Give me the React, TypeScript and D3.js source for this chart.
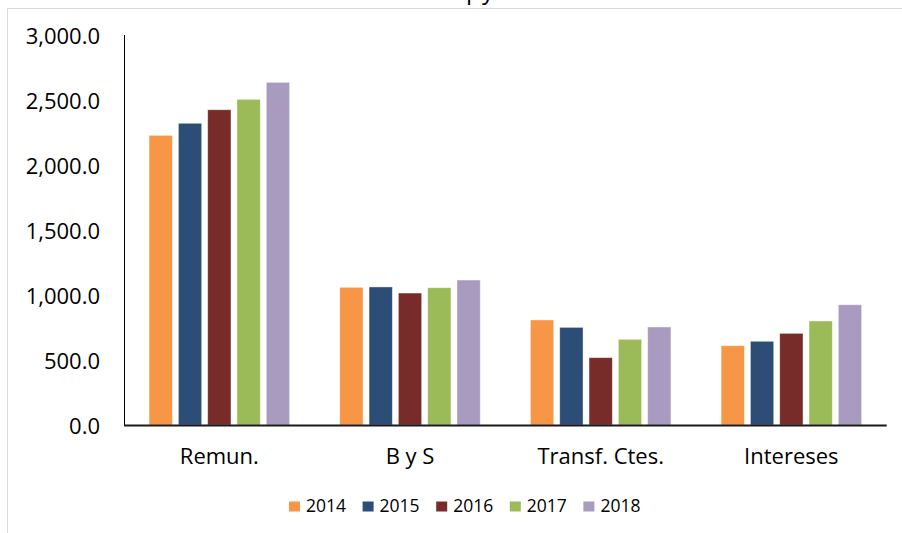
import React from "react";
import * as d3 from "d3";

const categories = ["Remun.", "B y S", "Transf. Ctes.", "Intereses"];
const years = ["2014", "2015", "2016", "2017", "2018"];
const v2014 = [2228, 1059, 808, 610];
const v2015 = [2321, 1062, 751, 644];
const v2016 = [2425, 1015, 518, 705];
const v2017 = [2505, 1056, 659, 800];
const v2018 = [2636, 1115, 754, 925];
const seriesValues = [v2014, v2015, v2016, v2017, v2018];
const colors = ["#F79646", "#2C4D75", "#772C2A", "#9BBB59", "#A99BBF"];
const yTicks = [0, 500, 1000, 1500, 2000, 2500, 3000];

const W = 902;
const H = 533;
const FONT = "'Open Sans', 'Noto Sans', sans-serif";

export default function App() {
  const left = 124;
  const right = 886.7;
  const top = 35;
  const bottom = 425;

  const y = d3.scaleLinear().domain([0, 3000]).range([bottom, top]);
  const x0 = d3.scaleBand<string>().domain(categories).range([left, right]).paddingInner(0).paddingOuter(0);
  const x1 = d3
    .scaleBand<string>()
    .domain(years)
    .range([0, x0.bandwidth()])
    .paddingInner(0.205)
    .paddingOuter(0.856);
  const fmt = d3.format(",.1f");

  const legendX = d3.scaleBand<string>().domain(years).range([289, 289 + 73.6 * 5]);

  return (
    <svg
      width={W}
      height={H}
      style={{ position: "absolute", left: 0, top: 0, background: "#fff" }}
      fontFamily={FONT}
    >
      <rect x={0} y={0} width={W} height={H} fill="#fff" />
      {/* chart border (partially visible) */}
      <line x1={7.5} y1={8.5} x2={W} y2={8.5} stroke="#d9d9d9" strokeWidth={1} />
      <line x1={7.5} y1={8.5} x2={7.5} y2={H} stroke="#d9d9d9" strokeWidth={1} />
      {/* cut-off title descenders */}
      <text x={466} y={-1.5} fontSize={24} fill="#000">
        p
      </text>
      <text x={482} y={-1.5} fontSize={24} fill="#000">
        y
      </text>

      {/* bars */}
      {categories.map((c, ci) => (
        <g key={c} transform={`translate(${x0(c)},0)`}>
          {years.map((yr, si) => {
            const v = seriesValues[si][ci];
            return (
              <rect
                key={yr}
                x={x1(yr)}
                y={y(v)}
                width={x1.bandwidth()}
                height={y(0) - y(v)}
                fill={colors[si]}
                stroke="#ffffff"
                strokeOpacity={0.5}
                strokeWidth={0.8}
              />
            );
          })}
        </g>
      ))}

      {/* y axis */}
      <line x1={left + 0.5} y1={top} x2={left + 0.5} y2={bottom} stroke="#000" strokeWidth={1} />
      {yTicks.map((t) => (
        <text
          key={t}
          x={100}
          y={y(t)}
          textAnchor="end"
          dominantBaseline="central"
          fontSize={22}
          fill="#000"
        >
          {fmt(t)}
        </text>
      ))}

      {/* x axis */}
      <line x1={left} y1={bottom + 0.5} x2={right} y2={bottom + 0.5} stroke="#1a1a1a" strokeWidth={2} />
      {categories.map((c) => (
        <text
          key={c}
          x={(x0(c) as number) + x0.bandwidth() / 2}
          y={463.5}
          textAnchor="middle"
          fontSize={22}
          fill="#000"
        >
          {c}
        </text>
      ))}

      {/* legend */}
      {years.map((yr, i) => (
        <g key={yr} transform={`translate(${legendX(yr)},0)`}>
          <rect x={0} y={501.5} width={11} height={10} fill={colors[i]} />
          <text x={17} y={511.5} fontSize={17.5} fill="#000">
            {yr}
          </text>
        </g>
      ))}
    </svg>
  );
}
